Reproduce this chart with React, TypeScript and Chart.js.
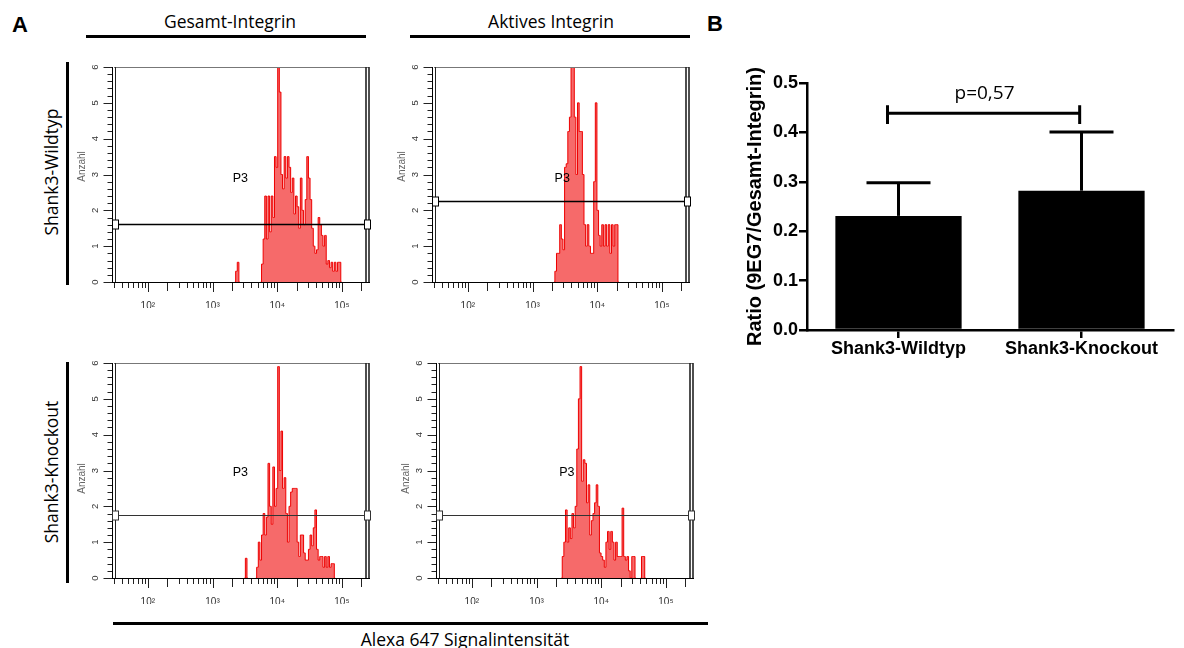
import React, { useEffect, useRef } from 'react';
import { Chart, registerables } from 'chart.js';

Chart.register(...registerables);

const SANS = '"Liberation Sans", Arial, "DejaVu Sans", sans-serif';
const CAL = '"Open Sans", "Liberation Sans", sans-serif';

// ---------- Panel A: flow cytometry histograms ----------
const columnTitles = ['Gesamt-Integrin', 'Aktives Integrin'];
const rowTitles = ['Shank3-Wildtyp', 'Shank3-Knockout'];
const axisLabel = 'Alexa 647 Signalintensität';
const countLabel = 'Anzahl';
const decadeTicks = [100, 1000, 10000, 100000];
const decadeLabels = ['10²', '10³', '10⁴', '10⁵'];
const countTicks = [0, 1, 2, 3, 4, 5, 6];
const intensityRange = [30, 262144];
const countRange = [0, 6];
const binStep = 0.025; // bin width in log10 units

const wtTotalStart = 3.345;
const wtTotalCounts = [
  0, 0.3, 0.55, 0, 0, 0, 0, 0, 0, 0, 0, 0, 0, 0, 0, 0, 0,
  0.5, 1.2, 2.4, 1.2, 2.4, 1.4, 2.4, 1.8, 3.5, 3.2, 6.0, 5.3, 3.0, 2.6, 3.5, 2.9, 3.5, 3.2,
  2.5, 2.9, 1.9, 2.4, 2.1, 1.5, 2.9, 2.0, 1.6, 2.3, 3.5, 2.9, 2.3, 1.5, 1.0, 0.8, 0.9, 1.8,
  1.6, 1.3, 1.0, 1.3, 0.5, 0.6, 0.4, 0.55, 0.3, 0.55, 0.3, 0.55, 0.55, 0,
];

const wtActiveStart = 3.333;
const wtActiveCounts = [
  0, 0.3, 0.8, 0.8, 1.6, 1.2, 0.9, 3.2, 3.3, 4.2, 4.6, 6.0, 6.0, 4.6, 3.0, 5.0, 4.2, 4.2, 3.0,
  1.6, 1.0, 1.6, 1.0, 0.8, 0.8, 2.8, 5.0, 2.0, 1.3, 1.0, 1.6, 1.0, 1.6, 1.0, 1.6, 0.8, 1.6,
  1.0, 1.6, 1.6, 0,
];

const koTotalStart = 3.495;
const koTotalCounts = [
  0, 0.55, 0, 0, 0, 0, 0, 0,
  0.3, 1.0, 0.5, 1.2, 1.8, 1.2, 1.7, 3.2, 2.0, 1.5, 3.1, 2.0, 2.5, 5.9, 3.0, 4.1, 2.5, 2.8,
  1.8, 1.0, 2.0, 2.4, 2.5, 2.5, 2.5, 1.0, 0.6, 1.2, 1.2, 0.7, 0.5, 0.5, 0.8, 1.2, 0.9, 1.4,
  1.9, 0.8, 0.5, 0.6, 0.6, 0.3, 0.6, 0.3, 0.6, 0.3, 0.4, 0.4, 0,
];

const koActiveStart = 3.385;
const koActiveCounts = [
  0, 0.6, 1.0, 1.9, 1.0, 1.4, 1.1, 1.8, 1.4, 2.0, 3.6, 5.0, 5.9, 2.7, 3.3, 3.2, 2.1, 2.6, 1.2,
  1.6, 1.8, 2.1, 2.6, 2.0, 0.7, 0.6, 0.5, 0.3, 1.0, 1.3, 0.8, 1.3, 1.0, 0.5, 1.0, 0.6, 0.6,
  0.6, 1.95, 0.6, 0.5, 0.6, 0.2, 0, 0.6, 0.6, 0, 0, 0, 0, 0.6, 0.6, 0,
];

const gateName = 'P3';
const gateLevels = [1.62, 2.25, 1.76, 1.76];
const gateLabelX = [2690, 2880, 2690, 2950];
const gateLabelY = [2.9, 2.9, 2.93, 2.93];

// ---------- Panel B: ratio bar chart ----------
const groups = ['Shank3-Wildtyp', 'Shank3-Knockout'];
const ratioMeans = [0.231, 0.282];
const ratioSem = [0.067, 0.119];
const ratioRange = [0, 0.5];
const ratioStep = 0.1;
const ratioTitle = 'Ratio (9EG7/Gesamt-Integrin)';
const pText = 'p=0,57';
const bracketX = [-0.06, 0.99];
const bracketY = 0.439;
const bracketEnds = [0.417, 0.455];
const pTextPos = [0.47, 0.478];

function line(ctx: any, x1: number, y1: number, x2: number, y2: number) {
  ctx.beginPath();
  ctx.moveTo(x1, y1);
  ctx.lineTo(x2, y2);
  ctx.stroke();
}

function Histogram(props: any) {
  const { left, top, start, counts, idx } = props;
  const ref = useRef<HTMLCanvasElement>(null);
  useEffect(() => {
    const points = counts.map((c: number, i: number) => ({ x: Math.pow(10, start + i * binStep), y: c }));
    const decor = {
      id: 'histDecor',
      afterDraw(chart: any) {
        const { ctx, chartArea: a, scales } = chart;
        const xs = scales.x;
        const ys = scales.y;
        ctx.save();
        ctx.lineCap = 'butt';
        // x tick marks
        ctx.strokeStyle = '#222';
        ctx.lineWidth = 1;
        for (let e = 1; e <= 5; e++) {
          for (let k = 1; k <= 9; k++) {
            const v = k * Math.pow(10, e);
            if (v < xs.min - 0.01 || v > xs.max) continue;
            const px = Math.round(xs.getPixelForValue(v)) + 0.5;
            const len = k === 1 ? 10 : k === 2 ? 9 : 6;
            line(ctx, px, a.bottom, px, a.bottom + len);
          }
        }
        // y tick marks
        const axX = Math.round(a.left) - 1.5;
        for (let i = 0; i <= 30; i++) {
          const py = Math.round(ys.getPixelForValue(i * 0.2)) + 0.5;
          const len = i % 5 === 0 ? 9 : 5;
          line(ctx, axX - len, py, axX, py);
        }
        // y tick labels (rotated) and axis title
        ctx.fillStyle = '#333';
        ctx.font = `9.5px ${SANS}`;
        ctx.textAlign = 'center';
        ctx.textBaseline = 'middle';
        countTicks.forEach((v) => {
          ctx.save();
          ctx.translate(a.left - 19, ys.getPixelForValue(v));
          ctx.rotate(-Math.PI / 2);
          ctx.fillText(String(v), 0, 0);
          ctx.restore();
        });
        ctx.save();
        ctx.fillStyle = '#666';
        ctx.font = `10px ${SANS}`;
        ctx.translate(a.left - 32, (a.top + a.bottom) / 2 + (idx < 2 ? -8 : 8));
        ctx.rotate(-Math.PI / 2);
        ctx.fillText(countLabel, 0, 0);
        ctx.restore();
        // frame
        ctx.strokeStyle = '#000';
        line(ctx, axX, a.top, axX, a.bottom + 1);
        line(ctx, axX, Math.round(a.bottom) + 0.5, a.right + 1, Math.round(a.bottom) + 0.5);
        ctx.strokeStyle = '#777';
        line(ctx, a.left, Math.round(a.top) + 0.5, a.right, Math.round(a.top) + 0.5);
        ctx.strokeStyle = '#222';
        line(ctx, Math.round(a.left) + 1.5, a.top, Math.round(a.left) + 1.5, a.bottom);
        ctx.lineWidth = 1.6;
        line(ctx, a.right - 3, a.top, a.right - 3, a.bottom);
        line(ctx, a.right, a.top, a.right, a.bottom);
        // gate
        const gy = Math.round(ys.getPixelForValue(gateLevels[idx])) + 0.5;
        ctx.strokeStyle = idx < 2 ? '#000' : '#333';
        ctx.lineWidth = idx < 2 ? 1.4 : 1;
        line(ctx, a.left, gy, a.right, gy);
        ctx.lineWidth = 1;
        ctx.fillStyle = '#fff';
        for (const sx of [Math.round(a.left) - 1.5, Math.round(a.right) - 4.5]) {
          ctx.fillRect(sx, gy - 4.5, 6, 9);
          ctx.strokeRect(sx, gy - 4.5, 6, 9);
        }
        // gate label
        ctx.fillStyle = '#000';
        ctx.font = `12.5px ${SANS}`;
        ctx.textAlign = 'center';
        ctx.textBaseline = 'middle';
        ctx.fillText(gateName, xs.getPixelForValue(gateLabelX[idx]), ys.getPixelForValue(gateLabelY[idx]));
        ctx.restore();
      },
    };
    const chart = new Chart(ref.current as HTMLCanvasElement, {
      type: 'line',
      data: {
        datasets: [
          {
            data: points,
            stepped: 'middle',
            borderColor: '#ee0000',
            borderWidth: 1,
            backgroundColor: '#f66a6a',
            fill: 'origin',
            pointRadius: 0,
            segment: {
              borderColor: (c: any) =>
                c.p0.parsed.y === 0 && c.p1.parsed.y === 0 ? 'rgba(0,0,0,0)' : undefined,
            },
          } as any,
        ],
      },
      options: {
        animation: false,
        responsive: false,
        devicePixelRatio: 1,
        layout: { padding: { left: 0, top: 10, right: 11, bottom: 0 } },
        plugins: { legend: { display: false }, tooltip: { enabled: false } },
        scales: {
          x: {
            type: 'logarithmic',
            min: intensityRange[0],
            max: intensityRange[1],
            grid: { display: false },
            border: { display: false },
            afterBuildTicks: (s: any) => {
              s.ticks = decadeTicks.map((v) => ({ value: v }));
            },
            ticks: {
              autoSkip: false,
              maxRotation: 0,
              minRotation: 0,
              padding: 10,
              font: { family: SANS, size: 10 },
              color: '#333',
              callback: (_v: any, i: number) => decadeLabels[i],
            },
            afterFit: (s: any) => {
              s.height = 26;
            },
          },
          y: {
            min: countRange[0],
            max: countRange[1],
            grid: { display: false },
            border: { display: false },
            ticks: { display: false, stepSize: 1 },
            title: { display: false },
            afterFit: (s: any) => {
              s.width = 54;
            },
          },
        },
      } as any,
      plugins: [decor],
    });
    return () => chart.destroy();
  }, []);
  return (
    <canvas
      ref={ref}
      width={320}
      height={251}
      style={{ position: 'absolute', left: left - 54, top: top - 10, width: 320, height: 251 }}
    />
  );
}

function RatioChart() {
  const ref = useRef<HTMLCanvasElement>(null);
  useEffect(() => {
    const decor = {
      id: 'ratioDecor',
      afterDatasetsDraw(chart: any) {
        const { ctx, scales } = chart;
        const xs = scales.x;
        const ys = scales.y;
        ctx.save();
        ctx.strokeStyle = '#000';
        ctx.lineWidth = 3;
        ctx.lineCap = 'butt';
        ratioMeans.forEach((m, i) => {
          const x = xs.getPixelForValue(i);
          const y0 = ys.getPixelForValue(m);
          const y1 = ys.getPixelForValue(m + ratioSem[i]);
          line(ctx, x, y0, x, y1);
          line(ctx, x - 32, y1, x + 32, y1);
        });
        const bx1 = xs.getPixelForValue(bracketX[0]);
        const bx2 = xs.getPixelForValue(bracketX[1]);
        const by = ys.getPixelForValue(bracketY);
        line(ctx, bx1, by, bx2, by);
        line(ctx, bx1, ys.getPixelForValue(bracketEnds[0]), bx1, ys.getPixelForValue(bracketEnds[1]));
        line(ctx, bx2, ys.getPixelForValue(bracketEnds[0]), bx2, ys.getPixelForValue(bracketEnds[1]));
        ctx.fillStyle = '#000';
        ctx.font = `19px ${CAL}`;
        ctx.textAlign = 'center';
        ctx.textBaseline = 'middle';
        ctx.fillText(pText, xs.getPixelForValue(pTextPos[0]), ys.getPixelForValue(pTextPos[1]));
        ctx.restore();
      },
    };
    const chart = new Chart(ref.current as HTMLCanvasElement, {
      type: 'bar',
      data: {
        labels: groups,
        datasets: [
          {
            data: ratioMeans,
            backgroundColor: '#000',
            borderWidth: 0,
            barPercentage: 0.69,
            categoryPercentage: 1,
          },
        ],
      },
      options: {
        animation: false,
        responsive: false,
        devicePixelRatio: 1,
        layout: { padding: { left: 0, top: 23, right: 11, bottom: 0 } },
        plugins: { legend: { display: false }, tooltip: { enabled: false } },
        scales: {
          x: {
            grid: { display: true, drawOnChartArea: false, offset: false, tickLength: 8, lineWidth: 2.5, color: '#000' },
            border: { display: true, color: '#000', width: 2.5 },
            ticks: { font: { family: SANS, size: 18, weight: 'bold' }, color: '#000', padding: 0 },
            afterFit: (s: any) => {
              s.height = 40;
            },
          },
          y: {
            min: ratioRange[0],
            max: ratioRange[1],
            grid: { display: true, drawOnChartArea: false, tickLength: 8, lineWidth: 2.5, color: '#000' },
            border: { display: true, color: '#000', width: 2.5 },
            ticks: {
              stepSize: ratioStep,
              font: { family: SANS, size: 18, weight: 'bold' },
              color: '#000',
              padding: 1,
              callback: (v: any) => Number(v).toFixed(1),
            },
            title: {
              display: true,
              text: ratioTitle,
              font: { family: SANS, size: 20, weight: 'bold' },
              color: '#000',
              padding: { top: 23, bottom: 0 },
            },
            afterFit: (s: any) => {
              s.width = 87;
            },
          },
        },
      } as any,
      plugins: [decor],
    });
    return () => chart.destroy();
  }, []);
  return (
    <canvas
      ref={ref}
      width={464}
      height={310}
      style={{ position: 'absolute', left: 720, top: 60, width: 464, height: 310 }}
    />
  );
}

function Txt(props: any) {
  const { x, y, text, size, weight, rotate, family } = props;
  return (
    <div
      style={{
        position: 'absolute',
        left: x,
        top: y,
        transform: `translate(-50%, -50%)${rotate ? ' rotate(-90deg)' : ''}`,
        fontSize: size,
        fontWeight: weight || 400,
        fontFamily: family || CAL,
        lineHeight: 1,
        whiteSpace: 'nowrap',
        color: '#000',
      }}
    >
      {text}
    </div>
  );
}

function Bar(props: any) {
  const { x, y, w, h } = props;
  return <div style={{ position: 'absolute', left: x, top: y, width: w, height: h, background: '#000' }} />;
}

export default function App() {
  return (
    <div
      style={{
        position: 'fixed',
        left: 0,
        top: 0,
        width: 1184,
        height: 648,
        background: '#fff',
        overflow: 'hidden',
      }}
    >
      <Txt x={20} y={25} text="A" size={22} weight={700} family={SANS} />
      <Txt x={715} y={24} text="B" size={22} weight={700} family={SANS} />
      <Txt x={230} y={22} text={columnTitles[0]} size={17.5} />
      <Txt x={551} y={22} text={columnTitles[1]} size={17.5} />
      <Bar x={86} y={35} w={280} h={3} />
      <Bar x={410} y={35} w={280} h={3} />
      <Txt x={52} y={172} text={rowTitles[0]} size={17.5} rotate />
      <Txt x={52} y={472} text={rowTitles[1]} size={17.5} rotate />
      <Bar x={66} y={62} w={3} h={223} />
      <Bar x={66} y={362} w={3} h={221} />
      <Bar x={113} y={622} w={595} h={3} />
      <Txt x={465} y={640} text={axisLabel} size={17.5} />
      <Histogram idx={0} left={114} top={67} start={wtTotalStart} counts={wtTotalCounts} />
      <Histogram idx={1} left={434} top={67} start={wtActiveStart} counts={wtActiveCounts} />
      <Histogram idx={2} left={114} top={363} start={koTotalStart} counts={koTotalCounts} />
      <Histogram idx={3} left={438} top={363} start={koActiveStart} counts={koActiveCounts} />
      <RatioChart />
    </div>
  );
}
